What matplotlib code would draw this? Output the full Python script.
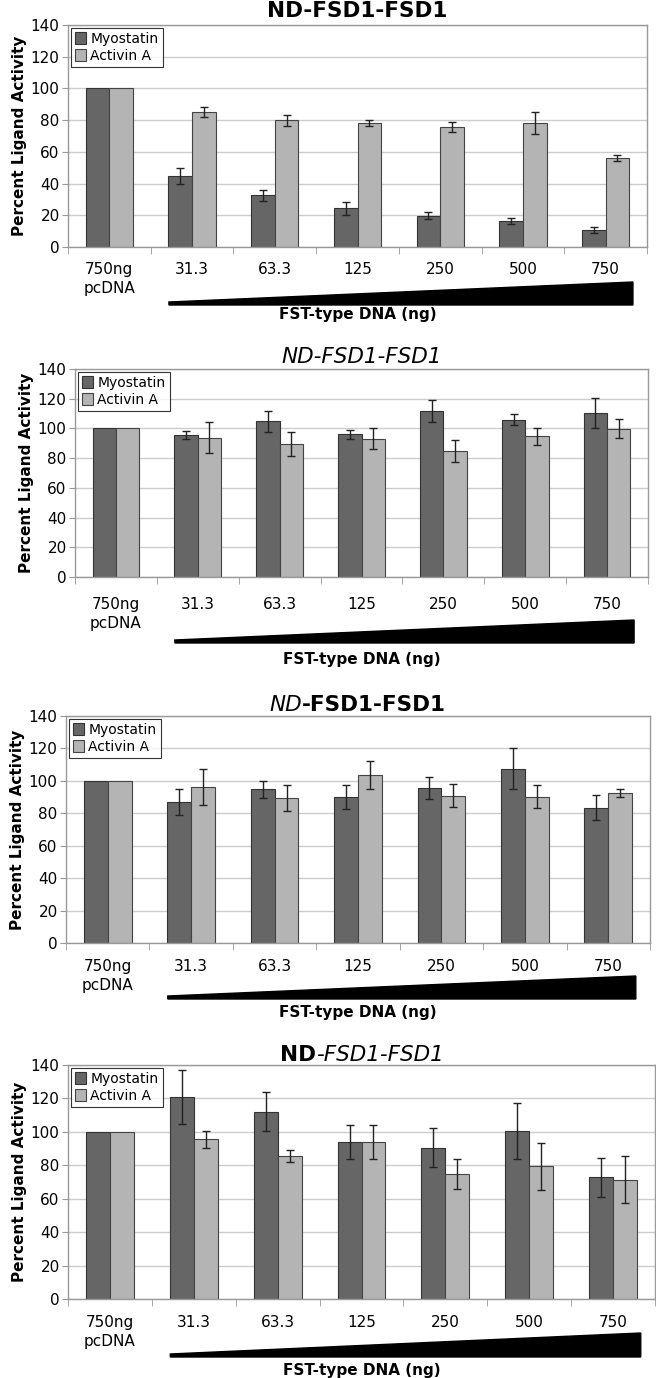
import matplotlib
matplotlib.use("Agg")
import matplotlib.pyplot as plt
from matplotlib.patches import Polygon
from matplotlib.transforms import blended_transform_factory
import numpy as np

plt.rcParams['font.family'] = ['DejaVu Sans']

categories = ["750ng\npcDNA", "31.3", "63.3", "125", "250", "500", "750"]

# panel 1: ND-FSD1-FSD1 (all bold)
myo_1 = [100, 44.8, 32.6, 24.4, 19.8, 16.6, 10.7]
myo_err_1 = [0, 5.0, 3.5, 4.0, 2.0, 2.0, 1.6]
act_1 = [100, 84.9, 79.9, 78.4, 75.9, 78.2, 56.3]
act_err_1 = [0, 3.2, 3.5, 2.0, 3.2, 7.0, 2.0]

# panel 2: ND-FSD1-FSD1 (all italic)
myo_2 = [100, 95.6, 104.8, 96.0, 111.5, 105.9, 110.4]
myo_err_2 = [0, 2.8, 7.0, 3.0, 7.3, 3.8, 9.9]
act_2 = [100, 93.8, 89.5, 93.1, 85.0, 94.7, 99.8]
act_err_2 = [0, 10.6, 8.3, 7.0, 7.3, 5.8, 6.4]

# panel 3: ND italic, FSD1-FSD1 bold
myo_3 = [100, 86.7, 94.7, 90.2, 95.7, 107.4, 83.4]
myo_err_3 = [0, 8.0, 5.4, 7.5, 6.8, 12.7, 7.7]
act_3 = [100, 96.3, 89.2, 103.7, 90.8, 90.2, 92.6]
act_err_3 = [0, 11.0, 8.0, 8.7, 7.0, 7.0, 2.4]

# panel 4: ND bold, FSD1-FSD1 italic
myo_4 = [100, 120.8, 112.0, 93.9, 90.5, 100.5, 72.7]
myo_err_4 = [0, 16.3, 11.7, 10.3, 11.8, 16.9, 11.6]
act_4 = [100, 95.5, 85.3, 93.9, 74.7, 79.3, 71.3]
act_err_4 = [0, 5.0, 3.6, 10.3, 9.1, 13.9, 14.1]

titles = [
    [("ND-FSD1-FSD1", "normal", "bold")],
    [("ND-FSD1-FSD1", "italic", "normal")],
    [("ND", "italic", "normal"), ("-FSD1-FSD1", "normal", "bold")],
    [("ND", "normal", "bold"), ("-FSD1-FSD1", "italic", "normal")],
]

panels = [
    (myo_1, myo_err_1, act_1, act_err_1),
    (myo_2, myo_err_2, act_2, act_err_2),
    (myo_3, myo_err_3, act_3, act_err_3),
    (myo_4, myo_err_4, act_4, act_err_4),
]

W, H = 656, 1378
# left, right, top, bottom in pixels
boxes = [(68, 647, 25, 247), (75, 648, 369, 577), (66, 650, 716, 943), (68, 655, 1065, 1299)]
# offsets below axis (px): tick labels, triangle top, triangle bottom, xlabel, title y
offsets = [(23, 35, 58, 68, 11), (28, 43, 66, 83, 357), (24, 33, 56, 70, 705), (24, 34, 58, 71, 1055)]

dark = "#666666"
light = "#b4b4b4"

fig = plt.figure(figsize=(W / 100, H / 100), dpi=100)
fig.patch.set_facecolor("white")

x = np.arange(len(categories))
w = 0.286
title_texts = []

for k, (myo, myo_err, act, act_err) in enumerate(panels):
    l, r, t, b = boxes[k]
    ax = fig.add_axes([l / W, 1 - b / H, (r - l) / W, (b - t) / H])
    hpx = b - t
    ax.set_axisbelow(True)
    ax.yaxis.grid(True, color="#cccccc", linewidth=1)
    me = [e if e > 0 else np.nan for e in myo_err]
    ae = [e if e > 0 else np.nan for e in act_err]
    ax.bar(x - w / 2, myo, w, color=dark, edgecolor="#333333", linewidth=0.8, label="Myostatin")
    ax.bar(x + w / 2, act, w, color=light, edgecolor="#444444", linewidth=0.8, label="Activin A")
    ax.errorbar(x - w / 2, myo, yerr=me, fmt="none", ecolor="#222222", elinewidth=1, capsize=3, capthick=1)
    ax.errorbar(x + w / 2, act, yerr=ae, fmt="none", ecolor="#222222", elinewidth=1, capsize=3, capthick=1)
    ax.set_xlim(-0.5, len(categories) - 0.5)
    ax.set_ylim(0, 140)
    ax.set_yticks(range(0, 141, 20))
    ax.tick_params(axis="y", labelsize=11, length=4, color="#999999", pad=2)
    ax.set_xticks(x)
    ax.set_xticklabels([])
    ax.set_xticks(np.arange(-0.5, len(categories), 1), minor=True)
    ax.tick_params(axis="x", which="major", length=0)
    ax.tick_params(axis="x", which="minor", length=5, color="#999999", direction="out")
    for s in ax.spines.values():
        s.set_color("#999999")
        s.set_linewidth(1)
    ax.set_ylabel("Percent Ligand Activity", fontsize=11, fontweight="bold", labelpad=3)

    tr = blended_transform_factory(ax.transData, ax.transAxes)
    lab_off, tri_top, tri_bot, xl_off, title_y = offsets[k]
    for i, c in enumerate(categories):
        ax.text(i, -(lab_off - 8) / hpx, c, transform=tr, ha="center", va="top",
                fontsize=11, linespacing=1.35)
    # wedge showing increasing DNA amount
    tri = Polygon([(0.72, -(tri_bot - 3) / hpx), (6.33, -tri_top / hpx),
                   (6.33, -tri_bot / hpx), (0.72, -tri_bot / hpx)],
                  closed=True, transform=tr, facecolor="black", edgecolor="black",
                  clip_on=False)
    ax.add_patch(tri)
    ax.text(0.5, -xl_off / hpx, "FST-type DNA (ng)", transform=ax.transAxes,
            ha="center", va="center", fontsize=11, fontweight="bold")

    leg = ax.legend(loc="upper left", fontsize=10, frameon=True, fancybox=False,
                    borderaxespad=0.2, handlelength=0.8, handleheight=1.0,
                    handletextpad=0.3, borderpad=0.3, labelspacing=0.2)
    leg.get_frame().set_edgecolor("black")
    leg.get_frame().set_linewidth(0.8)

    pieces = []
    for s, style, weight in titles[k]:
        pieces.append(fig.text(0, 1 - title_y / H, s, fontsize=15.5, fontstyle=style,
                               fontweight=weight, va="center", ha="left"))
    title_texts.append(((l + r) / 2, pieces))

# place mixed-style title pieces side by side, centred over each panel
renderer = fig.canvas.get_renderer()
for cx, pieces in title_texts:
    widths = [p.get_window_extent(renderer).width for p in pieces]
    xpos = cx - sum(widths) / 2
    for p, wd in zip(pieces, widths):
        p.set_x(xpos / W)
        xpos += wd

fig.savefig("out.png", dpi=100)
